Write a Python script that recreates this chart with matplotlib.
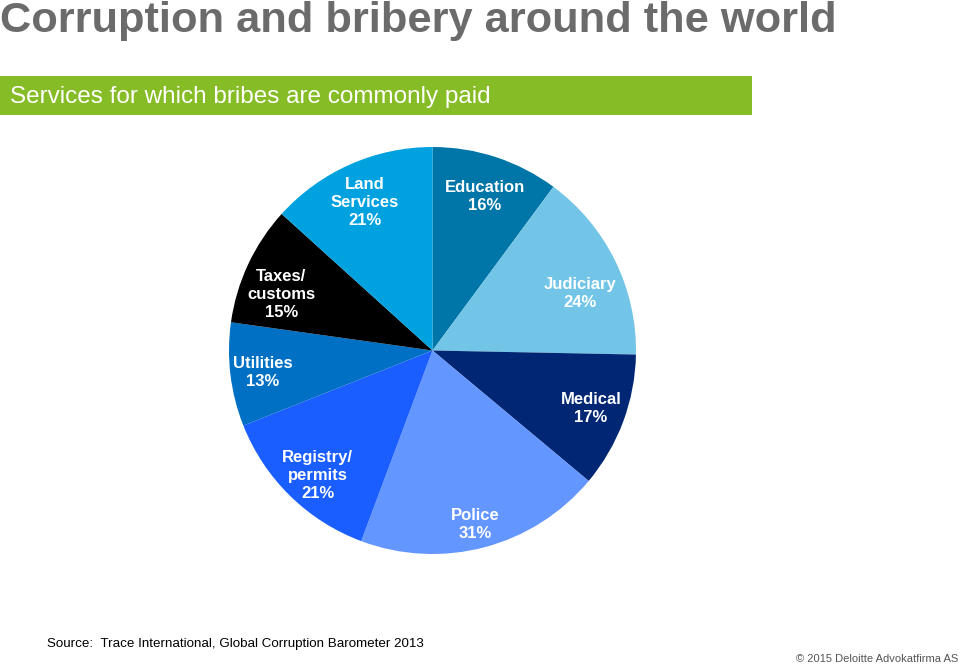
import matplotlib.pyplot as plt
from matplotlib.patches import Rectangle

plt.rcParams["font.family"] = ["Liberation Sans", "DejaVu Sans"]

# data, clockwise from 12 o'clock
services = ["Education", "Judiciary", "Medical", "Police",
            "Registry/\npermits", "Utilities", "Taxes/\ncustoms", "Land\nServices"]
shares = [16, 24, 17, 31, 21, 13, 15, 21]
colors = ["#0076A8", "#72C5E6", "#012774", "#6496FF",
          "#1A5EFF", "#0070C4", "#000000", "#00A1DF"]
# small hand nudges for the labels (axes units, radius = 1)
nudge = [(0.0, -0.02), (-0.01, -0.08), (0.01, 0.0), (0.0, -0.06),
         (0.01, -0.03), (-0.02, -0.01), (0.0, -0.07), (0.0, -0.02)]

fig = plt.figure(figsize=(9.6, 6.66), dpi=100)

# title and green banner
fig.text(0.0, 0.999, "Corruption and bribery around the world", ha="left", va="top",
         fontsize=31.2, fontweight="bold", color="#6B6B6B")
fig.add_artist(Rectangle((0, 1 - 115 / 666), 752 / 960, 39 / 666,
                         transform=fig.transFigure, color="#86BC25", lw=0))
fig.text(10 / 960, 1 - 97 / 666, "Services for which bribes are commonly paid",
         ha="left", va="center", fontsize=17.5, color="white")

ax = fig.add_axes([229 / 960, 112 / 666, 407 / 960, 407 / 666])
labels = [f"{s}\n{v}%" for s, v in zip(services, shares)]
wedges, texts = ax.pie(shares, colors=colors, startangle=90, counterclock=False,
                       labels=labels, labeldistance=0.82,
                       textprops=dict(color="white", fontsize=12, fontweight="bold",
                                      ha="center", va="center", linespacing=1.25))
for t, (dx, dy) in zip(texts, nudge):
    x, y = t.get_position()
    t.set_position((x + dx, y + dy))
ax.set_xlim(-1, 1)
ax.set_ylim(-1, 1)
ax.set_aspect("equal")

fig.text(47 / 960, 1 - 644 / 666, "Source:  Trace International, Global Corruption Barometer 2013",
         ha="left", va="center", fontsize=9.6, color="black")
fig.text(958 / 960, 1 - 659 / 666, "\u00a9 2015 Deloitte Advokatfirma AS",
         ha="right", va="center", fontsize=8, color="#555555")

fig.savefig("out.png", dpi=100)
